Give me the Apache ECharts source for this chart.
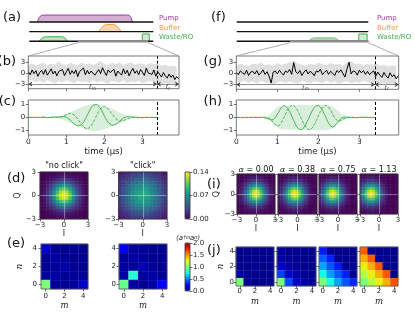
<!DOCTYPE html>
<html><head><meta charset="utf-8">
<script src="https://cdn.jsdelivr.net/npm/echarts@6/dist/echarts.min.js"></script>
<style>html,body{margin:0;padding:0;background:#fff}#c{width:415px;height:312px}</style>
</head><body><div id="c"></div>
<script>
// ================= DATA =================
// (a)/(f) pulse schematic, time in µs, heights in channel units
const schemRangeA = [-2.72, 4.25];
const schemRangeF = [-2.69, 3.96];
const channelNames = ['Pump', 'Buffer', 'Waste/RO'];
const channelLevels = [2, 1, 0];
const pumpA = [[-2.27,0],[-2.17,0.45],[-2.05,0.68],[-1.9,0.72],[2.75,0.72],[2.9,0.68],[3.0,0.45],[3.09,0]];
const bufferA = [[1.16,0],[1.3,0.3],[1.45,0.62],[1.62,0.75],[2.0,0.75],[2.17,0.62],[2.32,0.3],[2.47,0]];
const wasteA = [[-2.17,0],[-2.02,0.3],[-1.87,0.45],[-1.7,0.47],[-0.98,0.47],[-0.82,0.45],[-0.68,0.3],[-0.6,0]];
const wasteF = [[0.9,0],[1.0,0.15],[1.12,0.32],[1.25,0.37],[2.2,0.37],[2.32,0.32],[2.44,0.15],[2.53,0]];
const readoutA = [[3.63,0],[3.63,0.76],[4.02,0.76],[4.02,0]];
const readoutF = [[3.48,0],[3.48,0.76],[3.9,0.76],[3.9,0]];
const zoomWindow = [0, 3.96];

// (b)/(g) single-shot traces (step 0.05 µs) and grey spread (step 0.1 µs)
const traceStep = 0.05, bandStep = 0.1;
const traceB = [0.3,-0.5,0.8,-0.2,0.6,-0.9,0.1,0.7,-0.4,0.9,-0.6,0.2,1.1,-0.3,0.5,-0.8,0.4,-0.1,0.9,-0.7,
 0.3,1.2,-0.4,0.6,-0.2,0.8,-1.0,0.4,0.1,1.3,-0.5,0.7,-0.3,0.5,1.0,-0.6,0.2,0.9,-0.2,1.4,
 0.3,-0.7,0.8,0.1,-0.4,1.0,-0.9,0.5,0.2,-0.6,1.1,-0.3,0.7,-0.8,0.4,1.2,-0.1,0.6,-0.5,0.9,
 0.2,-0.7,1.3,0.0,0.5,-0.4,0.8,-0.9,0.3,-0.2,-1.1,0.1,-0.8,-1.4,-0.3,-1.2,-0.6,-1.8,-1.0,-1.6];
const traceG = [0.2,-0.4,0.6,0.1,-0.3,0.8,-0.6,0.3,0.5,-0.2,0.7,-0.5,0.1,0.9,-0.3,0.4,-0.8,-2.6,0.3,0.6,
 -0.2,0.8,0.1,-0.5,0.6,0.2,1.0,-0.3,2.8,0.4,-0.1,0.7,-0.6,0.3,0.9,-0.2,0.5,0.1,-0.7,0.6,
 0.3,1.1,-0.4,0.2,0.8,-0.3,0.5,0.0,-0.6,0.7,0.2,0.9,-0.1,-1.0,1.2,2.9,-0.2,0.6,0.4,-0.5,
 0.8,0.1,0.7,-0.3,0.5,-0.4,0.2,0.6,-0.8,0.3,-0.5,-1.1,0.2,-0.7,-1.3,0.1,-0.9,-0.4,-1.5,-0.6];
const bandUpB = [2.1,2.6,1.9,2.4,2.8,2.0,2.5,2.2,3.1,2.3,1.9,2.7,2.4,2.0,2.9,2.2,2.6,2.1,2.5,3.3,2.4,2.0,2.7,2.3,2.8,2.1,2.5,2.9,2.2,2.6,2.4,2.0,2.7,2.3,2.5,1.9,2.2,1.8,2.0,1.6];
const bandLoB = [-2.2,-1.9,-2.5,-2.1,-2.7,-2.0,-2.4,-2.9,-2.2,-2.6,-2.0,-2.4,-2.8,-2.1,-2.5,-2.3,-2.7,-2.0,-2.6,-2.2,-2.5,-2.9,-2.1,-2.4,-2.6,-2.0,-2.7,-2.3,-2.5,-2.1,-2.8,-2.4,-2.2,-2.6,-2.9,-3.0,-2.7,-3.1,-2.8,-3.2];
const bandUpG = [2.0,2.5,2.2,1.9,2.6,2.3,2.8,2.1,2.4,2.0,2.7,2.2,2.5,2.9,3.4,2.6,2.3,2.0,2.6,2.2,2.8,2.4,2.1,2.7,2.3,2.5,2.0,2.9,3.2,2.4,2.6,2.1,2.5,2.2,2.7,2.0,2.3,1.8,2.1,1.9];
const bandLoG = [-2.1,-2.4,-1.9,-2.6,-2.2,-2.7,-2.0,-2.5,-2.3,-3.1,-2.4,-2.1,-2.6,-2.2,-2.5,-2.8,-2.0,-2.4,-2.7,-2.1,-2.3,-2.6,-2.0,-2.5,-2.2,-2.8,-2.4,-2.1,-2.6,-2.3,-2.5,-2.0,-2.4,-2.7,-2.5,-2.9,-2.6,-3.0,-2.7,-3.1];
const measWindow = [0, 3.38];
const readWindow = [3.38, 3.96];
const arrowLevel = -3;

// (c) temporal mode, single photon
const timeC = [0,0.1,0.2,0.3,0.4,0.5,0.6,0.7,
 0.8,0.85,0.9,0.95,1.0,1.05,1.1,1.15,1.2,1.25,1.3,1.35,1.4,1.45,1.5,1.55,1.6,1.65,1.7,1.75,
 1.8,1.85,1.9,1.95,2.0,2.05,2.1,2.15,2.2,2.25,2.3,2.35,2.4,2.45,2.5,2.55,2.6,2.65,2.7,
 2.8,2.9,3.0,3.1,3.2,3.3,3.38];
const solidC = [0.01,-0.01,0.02,0,0.03,-0.01,0.02,0.03,
 0.04,0.05,0.07,0.07,0.03,-0.06,-0.19,-0.34,-0.49,-0.60,-0.66,-0.65,-0.55,-0.37,-0.11,0.18,0.48,0.75,0.94,1.04,
 1.02,0.90,0.69,0.41,0.11,-0.16,-0.39,-0.54,-0.61,-0.60,-0.53,-0.41,-0.28,-0.14,-0.03,0.04,0.07,0.07,0.05,
 0.03,0.01,-0.02,0.02,0,0.01,0];
const dashC = [0,0.02,-0.01,0.01,0.02,0,0.01,0.02,
 0.01,0.03,0.07,0.14,0.23,0.30,0.33,0.31,0.22,0.07,-0.12,-0.34,-0.55,-0.74,-0.86,-0.90,-0.83,-0.67,-0.42,-0.12,
 0.18,0.47,0.69,0.83,0.86,0.80,0.67,0.48,0.27,0.07,-0.10,-0.22,-0.29,-0.28,-0.24,-0.19,-0.12,-0.06,-0.02,
 0,-0.02,0.01,0,0.02,-0.01,0];
const envC = [0,0,0,0,0,0,0,0,
 0.05,0.1,0.18,0.25,0.3,0.35,0.41,0.47,0.54,0.6,0.67,0.74,0.8,0.86,0.91,0.96,1.0,1.03,1.04,1.05,
 1.04,1.03,1.0,0.96,0.91,0.86,0.8,0.74,0.67,0.6,0.54,0.47,0.41,0.35,0.28,0.2,0.12,0.06,0.02,
 0,0,0,0,0,0,0];

// (h) temporal mode, coherent state
const timeH = [0,0.1,0.2,0.3,0.4,0.5,0.6,0.65,
 0.7,0.75,0.8,0.85,0.9,0.95,1.0,1.05,1.1,1.15,1.2,1.25,1.3,1.35,1.4,1.45,1.5,1.55,1.6,1.65,
 1.7,1.75,1.8,1.85,1.9,1.95,2.0,2.05,2.1,2.15,2.2,2.25,2.3,2.35,2.4,2.45,2.5,2.55,2.6,2.65,2.7,
 2.8,2.9,3.0,3.1,3.2,3.3,3.38];
const solidH = [0.01,-0.01,0.02,0,0.02,-0.01,0.01,0.02,
 -0.04,-0.08,-0.13,-0.18,-0.16,-0.02,0.23,0.52,0.76,0.90,0.87,0.72,0.46,0.11,-0.24,-0.57,-0.81,-0.93,-0.92,-0.77,
 -0.51,-0.18,0.18,0.51,0.77,0.92,0.93,0.81,0.57,0.24,-0.11,-0.44,-0.66,-0.73,-0.64,-0.45,-0.24,-0.08,0.01,0.03,0.03,
 0.01,-0.02,0.01,0.02,0,0.01,0];
const dashH = [0,0.01,-0.02,0.01,0,0.02,-0.01,0.01,
 0.02,0.00,-0.05,-0.17,-0.36,-0.55,-0.65,-0.60,-0.40,-0.09,0.25,0.58,0.81,0.93,0.92,0.77,0.51,0.18,-0.18,-0.51,
 -0.77,-0.92,-0.93,-0.81,-0.57,-0.24,0.11,0.46,0.73,0.90,0.93,0.80,0.56,0.25,-0.03,-0.21,-0.26,-0.22,-0.14,-0.07,-0.03,
 0.02,0,-0.01,0.01,0.02,-0.01,0];
const envH = [0,0,0,0,0,0,0,0,
 0.04,0.1,0.2,0.35,0.52,0.66,0.78,0.86,0.9,0.92,0.93,0.935,0.94,0.94,0.945,0.95,0.95,0.955,0.955,0.96,
 0.96,0.965,0.965,0.97,0.97,0.975,0.975,0.98,0.98,0.98,0.97,0.95,0.9,0.82,0.72,0.6,0.46,0.32,0.2,0.11,0.05,
 0,0,0,0,0,0,0];

// (d)/(i) Husimi Q functions, 15x15 cells over [-3,3]^2, rows top (Q=+3) to bottom, values x 1e-3
const qNoClick = [
 [0,1,1,1,2,3,4,4,3,3,2,1,1,0,0],
 [0,1,2,4,6,8,10,11,10,8,6,4,2,1,1],
 [1,2,4,8,13,18,22,24,22,18,13,8,4,2,1],
 [1,4,8,15,24,34,42,45,42,35,24,15,8,4,1],
 [2,6,13,24,39,56,69,74,69,56,39,24,13,6,2],
 [3,8,18,34,56,80,98,106,98,80,56,34,18,8,3],
 [4,10,22,42,69,98,122,130,122,98,69,42,22,10,4],
 [4,11,24,45,74,106,130,140,130,106,74,45,24,11,4],
 [4,10,22,42,69,98,122,130,122,98,69,42,22,10,4],
 [3,8,18,34,56,80,98,106,98,80,56,34,18,8,3],
 [2,6,13,24,39,56,69,74,69,56,39,24,13,6,2],
 [1,4,8,15,24,34,42,45,42,34,24,15,8,4,1],
 [1,2,4,8,13,18,22,24,22,18,13,8,4,2,1],
 [0,1,2,4,6,8,10,11,10,8,6,4,2,1,0],
 [0,0,1,1,2,3,4,4,4,3,2,1,1,0,0]];
const qClick = [
 [12,13,18,19,25,24,29,26,28,25,24,18,18,13,10],
 [15,17,24,25,31,33,38,35,37,33,31,25,23,17,15],
 [16,24,26,35,37,45,44,49,45,44,37,34,28,21,18],
 [21,25,35,38,49,51,59,56,58,52,48,41,31,27,19],
 [22,32,37,49,53,64,65,70,66,63,54,48,38,31,24],
 [27,33,45,51,64,68,77,74,78,69,63,52,44,33,27],
 [26,38,44,59,65,77,79,85,80,76,66,59,45,37,26],
 [29,36,48,56,70,75,85,82,86,76,69,57,48,36,29],
 [26,37,45,58,66,74,83,81,79,77,65,58,47,35,28],
 [25,35,42,54,60,71,74,79,73,71,61,54,42,35,25],
 [24,29,40,46,56,61,69,66,68,61,56,46,40,29,22],
 [19,27,32,41,46,54,56,60,55,54,46,41,32,26,21],
 [18,21,28,32,40,42,47,45,47,42,40,32,28,23,16],
 [13,19,21,27,29,35,35,38,35,35,29,27,21,19,13],
 [11,13,18,19,24,25,28,27,26,27,22,21,16,14,12]];
const qAlpha000 = [
 [0,0,1,1,2,3,4,4,4,3,2,1,1,0,0],
 [0,1,2,4,6,8,10,11,10,8,6,4,2,1,0],
 [1,2,4,8,13,18,22,24,22,18,13,8,4,2,1],
 [1,4,8,15,24,34,42,45,42,34,24,15,8,4,1],
 [2,6,13,24,39,56,69,74,69,56,39,24,13,6,2],
 [3,8,18,34,56,80,98,105,98,80,56,34,18,8,3],
 [4,10,22,42,69,98,121,129,121,98,69,42,22,10,4],
 [4,11,24,45,74,105,129,138,129,105,74,45,24,11,4],
 [4,10,22,42,69,98,121,129,121,98,69,42,22,10,4],
 [3,8,18,34,56,80,98,105,98,80,56,34,18,8,3],
 [2,6,13,24,39,56,69,74,69,56,39,24,13,6,2],
 [1,4,8,15,24,34,42,45,42,34,24,15,8,4,1],
 [1,2,4,8,13,18,22,24,22,18,13,8,4,2,1],
 [0,1,2,4,6,8,10,11,10,8,6,4,2,1,0],
 [0,0,1,1,2,3,4,4,4,3,2,1,1,0,0]];
const qAlpha038 = [
 [0,1,1,2,3,4,4,4,3,2,1,1,0,0,0],
 [1,2,4,6,8,10,11,10,8,6,4,2,1,0,0],
 [2,4,8,13,18,22,24,22,18,13,8,4,2,1,0],
 [4,8,15,24,34,42,45,42,34,24,15,8,4,1,0],
 [6,13,24,39,56,69,74,69,56,39,24,13,6,2,1],
 [8,18,34,56,80,98,106,98,80,56,34,18,8,3,1],
 [10,22,42,69,98,122,130,122,98,69,42,22,10,4,1],
 [11,24,45,74,106,130,140,130,106,74,45,24,11,4,2],
 [10,22,42,69,98,122,130,122,98,69,42,22,10,4,1],
 [8,18,34,56,80,98,106,98,80,56,34,18,8,3,1],
 [6,13,24,39,56,69,74,69,56,39,24,13,6,2,1],
 [4,8,15,24,34,42,45,42,34,24,15,8,4,1,0],
 [2,4,8,13,18,22,24,22,18,13,8,4,2,1,0],
 [1,2,4,6,8,10,11,10,8,6,4,2,1,0,0],
 [0,1,1,2,3,4,4,4,3,2,1,1,0,0,0]];
const qAlpha075 = [
 [1,1,2,3,4,4,4,3,2,1,1,0,0,0,0],
 [2,4,6,8,10,11,10,8,6,4,2,1,0,0,0],
 [4,8,13,18,22,24,22,18,13,8,4,2,1,0,0],
 [8,15,24,34,42,45,42,34,24,15,8,4,1,0,0],
 [13,24,39,56,69,74,69,56,39,24,13,6,2,1,0],
 [18,34,56,80,98,106,98,80,56,34,18,8,3,1,0],
 [22,42,69,98,122,130,122,98,69,42,22,10,4,1,0],
 [24,45,74,106,130,140,130,106,74,45,24,11,4,2,0],
 [22,42,69,98,122,130,122,98,69,42,22,10,4,1,0],
 [18,34,56,80,98,106,98,80,56,34,18,8,3,1,0],
 [13,24,39,56,69,74,69,56,39,24,13,6,2,1,0],
 [8,15,24,34,42,45,42,34,24,15,8,4,1,0,0],
 [4,8,13,18,22,24,22,18,13,8,4,2,1,0,0],
 [2,4,6,8,10,11,10,8,6,4,2,1,0,0,0],
 [1,1,2,3,4,4,4,3,2,1,1,0,0,0,0]];
const qAlpha113 = [
 [1,2,3,4,4,4,3,2,1,1,0,0,0,0,0],
 [4,6,8,10,11,10,8,6,4,2,1,0,0,0,0],
 [8,13,18,22,24,22,18,13,8,4,2,1,0,0,0],
 [15,24,34,42,45,42,34,24,15,8,4,1,0,0,0],
 [24,39,56,69,74,69,56,39,24,13,6,2,1,0,0],
 [34,56,80,98,106,98,80,56,34,18,8,3,1,0,0],
 [42,69,98,122,130,122,98,69,42,22,10,4,1,0,0],
 [45,74,106,130,140,130,106,74,45,24,11,4,2,0,0],
 [42,69,98,122,130,122,98,69,42,22,10,4,1,0,0],
 [34,56,80,98,106,98,80,56,34,18,8,3,1,0,0],
 [24,39,56,69,74,69,56,39,24,13,6,2,1,0,0],
 [15,24,34,42,45,42,34,24,15,8,4,1,0,0,0],
 [8,13,18,22,24,22,18,13,8,4,2,1,0,0,0],
 [4,6,8,10,11,10,8,6,4,2,1,0,0,0,0],
 [1,2,3,4,4,4,3,2,1,1,0,0,0,0,0]];
const qScale = 0.001;
const alphaLabels = ['0.00', '0.38', '0.75', '1.13'];

// (e)/(j) moments |<a†^m a^n>|, rows n=4 (top) .. n=0 (bottom), columns m=0..4
const momentTicks = ['0','1','2','3','4'];
const mNoClick = [[0.15,0.04,0.03,0.04,0.03],[0.05,0.06,0.04,0.03,0.04],[0.04,0.05,0.08,0.04,0.03],[0.06,0.07,0.04,0.05,0.04],[1.0,0.05,0.04,0.06,0.14]];
const mClick = [[0.22,0.05,0.04,0.03,0.04],[0.05,0.07,0.05,0.04,0.03],[0.06,0.05,0.1,0.05,0.04],[0.07,0.8,0.06,0.08,0.04],[0.95,0.06,0.05,0.07,0.24]];
const mAlpha000 = [[0.03,0.02,0.03,0.02,0.03],[0.02,0.03,0.02,0.03,0.02],[0.03,0.02,0.04,0.02,0.03],[0.04,0.03,0.02,0.03,0.02],[1.0,0.04,0.03,0.02,0.03]];
const mAlpha038 = [[0.06,0.03,0.02,0.03,0.02],[0.08,0.04,0.03,0.02,0.03],[0.15,0.07,0.04,0.03,0.02],[0.38,0.16,0.07,0.04,0.03],[1.0,0.39,0.15,0.07,0.05]];
const mAlpha075 = [[0.3,0.04,0.03,0.02,0.03],[0.43,0.31,0.03,0.04,0.02],[0.57,0.42,0.3,0.03,0.04],[0.76,0.56,0.43,0.31,0.03],[1.0,0.75,0.57,0.42,0.32]];
const mAlpha113 = [[1.62,0.03,0.02,0.03,0.02],[1.45,1.62,0.03,0.02,0.03],[1.28,1.44,1.63,0.03,0.02],[1.13,1.28,1.45,1.64,0.03],[1.0,1.13,1.28,1.44,1.65]];

// tick values
const traceTicks = [-3, 0, 3];
const modeTicks = [-1, 0, 1];
const timeTicks = [0, 1, 2, 3];
const quadTicks = [-3, 0, 3];
const qBarTicks = [0, 0.07, 0.14];
const mBarTicks = [0, 0.5, 1.0, 1.5, 2.0];

// ================= BUILD =================
const FONT = 'DejaVu Sans';
const viridis = ['#440154','#482878','#3e4989','#31688e','#26828e','#1f9e89','#35b779','#6ece58','#b5de2b','#fde725'];
const jet = ['#000080','#0000ff','#0080ff','#14ffe3','#7dff7a','#e3ff14','#ff9700','#ff2000','#800000'];
const GREEN = '#3fae49';
const grids = [], xAxes = [], yAxes = [], series = [], graphics = [];
const fmt = v => (v < 0 ? '\u2212' : '') + Math.abs(v);
const tick = (vals) => ({show: true, length: 2.5, customValues: vals, lineStyle: {color: '#333', width: 0.7}});
const lab = (o) => Object.assign({fontSize: 7, color: '#222', fontFamily: FONT}, o);
const noLine = {show: false, onZero: false};

function addGrid(r, border) {
  grids.push({left: r[0], top: r[1], width: r[2], height: r[3], containLabel: false, outerBoundsMode: 'none',
    show: !!border, borderColor: border || 'transparent', borderWidth: border ? 0.8 : 0, backgroundColor: 'transparent', z: 10});
  return grids.length - 1;
}
function addX(o) { xAxes.push(o); return xAxes.length - 1; }
function addY(o) { yAxes.push(o); return yAxes.length - 1; }
function pairs(xs, ys) { return ys.map((v, i) => [xs[i], v]); }
function stepPairs(step, ys) { return ys.map((v, i) => [i * step, v]); }
function line(xi, yi, data, o) {
  return Object.assign({type: 'line', xAxisIndex: xi, yAxisIndex: yi, data: data, symbol: 'none', showSymbol: false, silent: true, animation: false}, o);
}

// ---- schematic panels
function schematic(rect, range, pulses, readout) {
  const g = addGrid(rect);
  const xi = addX({type: 'value', gridIndex: g, min: range[0], max: range[1], show: false});
  const yi = addY({type: 'value', gridIndex: g, min: -0.4, max: 3.0, show: false});
  pulses.forEach(p => {
    series.push(line(xi, yi, p.pts.map(q => [q[0], q[1] + p.base]), {
      lineStyle: {color: p.color, width: 1}, areaStyle: {color: p.fill, origin: p.base, opacity: 1}, z: 2}));
  });
  series.push(line(xi, yi, readout, {lineStyle: {color: GREEN, width: 1}, areaStyle: {color: 'rgba(63,174,73,0.35)', origin: 0}, z: 2}));
  channelLevels.forEach(lv => {
    series.push(line(xi, yi, [[range[0], lv], [range[1], lv]], {lineStyle: {color: '#111', width: 1.4}, z: 3}));
  });
  series.push(line(xi, yi, [[zoomWindow[0], 0], [zoomWindow[1], 0]], {lineStyle: {color: '#8c8c8c', width: 2.4}, z: 4}));
  return g;
}
const gA = schematic([29.3, 12.35, 124, 32.8], schemRangeA, [
  {pts: pumpA, base: 2, color: '#9b3f9e', fill: 'rgba(155,63,158,0.42)'},
  {pts: bufferA, base: 1, color: '#f39a3c', fill: 'rgba(243,154,60,0.42)'},
  {pts: wasteA, base: 0, color: GREEN, fill: 'rgba(63,174,73,0.35)'}], readoutA);
const gF = schematic([236.7, 12.35, 131.6, 32.8], schemRangeF, [
  {pts: wasteF, base: 0, color: 'rgba(63,174,73,0.55)', fill: 'rgba(63,174,73,0.45)'}], readoutF);

// ---- trace panels
function tracePanel(rect, trace, up, lo) {
  const g = addGrid(rect, '#555');
  const xi = addX({type: 'value', gridIndex: g, min: 0, max: 3.96, axisLine: noLine, splitLine: {show: false},
    axisTick: tick(timeTicks), axisLabel: {show: false}});
  const yi = addY({type: 'value', gridIndex: g, min: -4.25, max: 4.55, axisLine: noLine, splitLine: {show: false},
    axisTick: tick(traceTicks), axisLabel: lab({customValues: traceTicks, formatter: fmt, margin: 3})});
  const bandStyle = {lineStyle: {width: 0, opacity: 0}, areaStyle: {color: 'rgba(0,0,0,0.18)'}, z: 1};
  series.push(line(xi, yi, stepPairs(bandStep, up), bandStyle));
  series.push(line(xi, yi, stepPairs(bandStep, lo), bandStyle));
  series.push(line(xi, yi, stepPairs(traceStep, trace), {lineStyle: {color: '#000', width: 1}, z: 3}));
  series.push(line(xi, yi, [[0, 0]], {lineStyle: {opacity: 0, width: 0}, z: 4,
    markLine: {silent: true, symbol: 'none', animation: false, label: {show: false},
      lineStyle: {color: '#000', width: 1, type: [3, 2]}, data: [{xAxis: measWindow[1]}]}}));
  series.push(line(xi, yi, [[0, 0]], {lineStyle: {opacity: 0, width: 0}, z: 5,
    markLine: {silent: true, symbol: ['arrow', 'arrow'], symbolSize: 4, animation: false,
      lineStyle: {color: '#444', width: 0.6, type: 'solid'},
      label: {show: true, position: 'insideMiddleBottom', distance: 0,
        formatter: p => p.dataIndex === 0 ? '{i|t}{s|m}' : '{i|t}{s|r}',
        rich: {i: {fontSize: 6.5, fontStyle: 'italic', fontFamily: 'DejaVu Serif', color: '#333'},
               s: {fontSize: 4.5, fontFamily: FONT, color: '#333', verticalAlign: 'bottom'}}},
      data: [[{coord: [measWindow[0], arrowLevel]}, {coord: [measWindow[1], arrowLevel]}],
             [{coord: [readWindow[0], arrowLevel]}, {coord: [readWindow[1], arrowLevel]}]]}}));
  return g;
}
const gB = tracePanel([28.3, 56, 150.7, 32.7], traceB, bandUpB, bandLoB);
const gG = tracePanel([236.3, 56, 162.4, 33.3], traceG, bandUpG, bandLoG);

// ---- mode panels
function modePanel(rect, times, solid, dash, env) {
  const g = addGrid(rect, '#555');
  const xi = addX({type: 'value', gridIndex: g, min: 0, max: 3.96, axisLine: noLine, splitLine: {show: false},
    axisTick: tick(timeTicks), axisLabel: lab({customValues: timeTicks, margin: 3, fontSize: 7.5}),
    name: 'time (\u03bcs)', nameLocation: 'middle', nameGap: 11, nameTextStyle: {fontSize: 8.5, fontFamily: FONT, color: '#222'}});
  const yi = addY({type: 'value', gridIndex: g, min: -1.35, max: 1.35, axisLine: noLine, splitLine: {show: false},
    axisTick: tick(modeTicks), axisLabel: lab({customValues: modeTicks, formatter: fmt, margin: 3})});
  const envStyle = {lineStyle: {width: 0, opacity: 0}, areaStyle: {color: 'rgba(63,174,73,0.28)'}, z: 1};
  series.push(line(xi, yi, pairs(times, env), envStyle));
  series.push(line(xi, yi, pairs(times, env.map(v => -v)), envStyle));
  series.push(line(xi, yi, pairs(times, solid), {lineStyle: {color: GREEN, width: 0.9}, z: 3}));
  series.push(line(xi, yi, pairs(times, dash), {lineStyle: {color: GREEN, width: 0.9, type: [3, 1.5]}, z: 3}));
  series.push(line(xi, yi, [[0, 0]], {lineStyle: {opacity: 0, width: 0}, z: 4,
    markLine: {silent: true, symbol: 'none', animation: false, label: {show: false},
      lineStyle: {color: '#000', width: 1, type: [3, 2]}, data: [{xAxis: measWindow[1]}]}}));
  return g;
}
modePanel([28.3, 100, 150.7, 35], timeC, solidC, dashC, envC);
modePanel([236.3, 100, 162.4, 35], timeH, solidH, dashH, envH);

// ---- Q-function heatmaps
const vIdx = [], jIdx = [];
function qPanel(rect, rows, o) {
  const g = addGrid(rect, '#333');
  const n = rows.length;
  const cats = rows.map((_, i) => i);
  const xc = addX({type: 'category', gridIndex: g, data: cats, show: false});
  const yc = addY({type: 'category', gridIndex: g, data: cats, show: false});
  const xv = addX({type: 'value', gridIndex: g, min: -3, max: 3, position: 'bottom', axisLine: noLine, splitLine: {show: false},
    axisTick: tick(quadTicks), axisLabel: lab({customValues: quadTicks, formatter: fmt, margin: o.xm}),
    name: 'I', nameLocation: 'middle', nameGap: o.xng, nameTextStyle: {fontSize: 8, fontFamily: FONT, color: '#222'}});
  const yv = addY({type: 'value', gridIndex: g, min: -3, max: 3, position: 'left', axisLine: noLine, splitLine: {show: false},
    axisTick: tick(quadTicks), axisLabel: lab({show: o.ylab, customValues: quadTicks, formatter: fmt, margin: o.ym}),
    name: o.yname ? 'Q' : '', nameLocation: 'middle', nameGap: o.yng, nameTextStyle: {fontSize: 8, fontFamily: FONT, color: '#222'}});
  const data = [];
  rows.forEach((row, r) => row.forEach((v, c) => data.push([c, n - 1 - r, v * qScale])));
  vIdx.push(series.length);
  series.push({type: 'heatmap', xAxisIndex: xc, yAxisIndex: yc, data: data, emphasis: {disabled: true}, silent: true, animation: false, z: 1});
  series.push(line(xv, yv, [[0, 0]], {lineStyle: {opacity: 0, width: 0}, z: 5,
    markLine: {silent: true, symbol: 'none', animation: false, label: {show: false},
      lineStyle: {color: 'rgba(255,255,255,0.45)', width: 0.8, type: 'solid'}, data: [{xAxis: 0}, {yAxis: 0}]}}));
  return g;
}
const dOpt = {xm: 3, xng: 10, ylab: true, ym: 4, yng: 16};
qPanel([40, 172, 48, 47], qNoClick, Object.assign({}, dOpt, {yname: true}));
qPanel([118.5, 172, 48.5, 47], qClick, Object.assign({}, dOpt, {ym: 3}));
const iRects = [[237, 174, 38, 40], [278, 174, 39, 40], [319, 174, 38, 40], [360, 174, 38, 40]];
[qAlpha000, qAlpha038, qAlpha075, qAlpha113].forEach((rows, k) => {
  qPanel(iRects[k], rows, {xm: 3, xng: 11, ylab: k === 0, ym: 2, yname: k === 0, yng: 8});
});

// ---- moment matrices
function mPanel(rect, rows, o) {
  const g = addGrid(rect, '#555');
  const xc = addX({type: 'category', gridIndex: g, data: momentTicks, axisLine: noLine,
    axisTick: {show: true, length: 2.5, interval: 1, alignWithLabel: true, lineStyle: {color: '#333', width: 0.7}},
    axisLabel: lab({interval: 1, margin: o.xm}), z: 5,
    splitLine: {show: true, interval: 0, lineStyle: {color: 'rgba(255,255,255,0.13)', width: 0.6}},
    name: 'm', nameLocation: 'middle', nameGap: o.xng, nameTextStyle: {fontSize: 8.5, fontStyle: 'italic', fontFamily: 'DejaVu Serif', color: '#222'}});
  const yc = addY({type: 'category', gridIndex: g, data: momentTicks, axisLine: noLine,
    axisTick: {show: true, length: 2.5, interval: 1, alignWithLabel: true, lineStyle: {color: '#333', width: 0.7}},
    axisLabel: lab({show: o.ylab, interval: 1, margin: o.ym}), z: 5,
    splitLine: {show: true, interval: 0, lineStyle: {color: 'rgba(255,255,255,0.13)', width: 0.6}},
    name: o.yname ? 'n' : '', nameLocation: 'middle', nameGap: o.yng, nameTextStyle: {fontSize: 8.5, fontStyle: 'italic', fontFamily: 'DejaVu Serif', color: '#222'}});
  const data = [];
  rows.forEach((row, r) => row.forEach((v, c) => data.push([c, rows.length - 1 - r, v])));
  jIdx.push(series.length);
  series.push({type: 'heatmap', xAxisIndex: xc, yAxisIndex: yc, data: data, emphasis: {disabled: true}, silent: true, animation: false, z: 1});
  return g;
}
mPanel([41, 244, 47, 45], mNoClick, {xm: 4, xng: 12, ylab: true, ym: 4, yname: true, yng: 17});
mPanel([119, 244, 48, 45], mClick, {xm: 4, xng: 12, ylab: true, ym: 3, yname: false, yng: 17});
const jRects = [[236, 247, 38, 39], [277, 247, 39, 39], [319, 247, 38, 39], [360, 247, 38, 39]];
[mAlpha000, mAlpha038, mAlpha075, mAlpha113].forEach((rows, k) => {
  mPanel(jRects[k], rows, {xm: 2, xng: 11, ylab: k === 0, ym: 2, yname: k === 0, yng: 8});
});

// ---- colorbars (tick axes)
function cbarAxis(rect, mx, ticks, digits) {
  const g = addGrid(rect, '#333');
  addX({type: 'value', gridIndex: g, min: 0, max: 1, show: false});
  addY({type: 'value', gridIndex: g, min: 0, max: mx, position: 'right', axisLine: noLine, splitLine: {show: false},
    axisTick: tick(ticks), axisLabel: lab({customValues: ticks, formatter: v => v.toFixed(digits), margin: 3})});
}
cbarAxis([185, 172, 5, 47], 0.14, qBarTicks, 2);
cbarAxis([185, 243, 5, 48], 2.0, mBarTicks, 1);

// ---- texts
function txt(s, x, y, o) {
  graphics.push(Object.assign({type: 'text', silent: true, z: 50, style: Object.assign({text: s, x: x, y: y, fill: '#111',
    fontSize: 13, fontFamily: FONT, textAlign: 'left', textVerticalAlign: 'middle'}, o || {})}));
}
[['(a)', 3, 18], ['(d)', 7, 179], ['(e)', 7, 244], ['(f)', 211, 18], ['(i)', 207, 185], ['(j)', 207, 251]].forEach(p => txt(p[0], p[1], p[2]));
[['(b)', 16, 62], ['(c)', 16, 102], ['(g)', 222, 62], ['(h)', 222, 102]].forEach(p => txt(p[0], p[1], p[2], {textAlign: 'right'}));
const legColors = ['#a0399f', '#f39a3c', '#3fae49'];
const legY = [17.7, 28.5, 37.2];
channelNames.forEach((nm, i) => {
  txt(nm, 159, legY[i], {fontSize: 7, fill: legColors[i]});
  txt(nm, 377, legY[i], {fontSize: 7, fill: legColors[i]});
});
txt('"no click"', 64, 165.5, {fontSize: 8, textAlign: 'center'});
txt('"click"', 142.7, 165.5, {fontSize: 8, textAlign: 'center'});
alphaLabels.forEach((a, k) => {
  txt('{g|\u03b1} = ' + a, iRects[k][0] + iRects[k][2] / 2, 169.5, {fontSize: 8, textAlign: 'center',
    rich: {g: {fontSize: 8, fontStyle: 'italic', fontFamily: 'DejaVu Serif', fill: '#111'}}});
});
txt('\u27e8a{s|\u2020m}a{s|n}\u27e9', 188, 238.5, {fontSize: 7, textAlign: 'center', fontStyle: 'italic',
  rich: {s: {fontSize: 5, fill: '#111', verticalAlign: 'top', fontStyle: 'italic'}}});

const chart = echarts.init(document.getElementById('c'), null, {renderer: 'canvas'});
const option = {
  animation: false, backgroundColor: '#fff',
  grid: grids, xAxis: xAxes, yAxis: yAxes, series: series, graphic: graphics,
  visualMap: [
    {type: 'continuous', min: 0, max: 0.14, seriesIndex: vIdx, inRange: {color: viridis}, left: 185, top: 172,
      itemWidth: 5, itemHeight: 47, padding: 0, calculable: false, hoverLink: false, realtime: false, z: 5},
    {type: 'continuous', min: 0, max: 2, seriesIndex: jIdx, inRange: {color: jet}, left: 185, top: 243,
      itemWidth: 5, itemHeight: 48, padding: 0, calculable: false, hoverLink: false, realtime: false, z: 5}
  ]
};
chart.setOption(option);

// zoom connectors from the schematics to the trace panels
function conn(gs, gt) {
  const a = chart.convertToPixel({gridIndex: gs}, [zoomWindow[0], -0.15]);
  const b = chart.convertToPixel({gridIndex: gs}, [zoomWindow[1], -0.15]);
  const c = chart.convertToPixel({gridIndex: gt}, [zoomWindow[0], 4.55]);
  const d = chart.convertToPixel({gridIndex: gt}, [zoomWindow[1], 4.55]);
  return [[a, c], [b, d]];
}
const extra = [];
conn(gA, gB).concat(conn(gF, gG)).forEach(s => {
  extra.push({type: 'line', silent: true, z: 40, shape: {x1: s[0][0], y1: s[0][1], x2: s[1][0], y2: s[1][1]},
    style: {stroke: '#999', lineWidth: 0.8}});
});
chart.setOption({graphic: graphics.concat(extra)});
</script></body></html>
